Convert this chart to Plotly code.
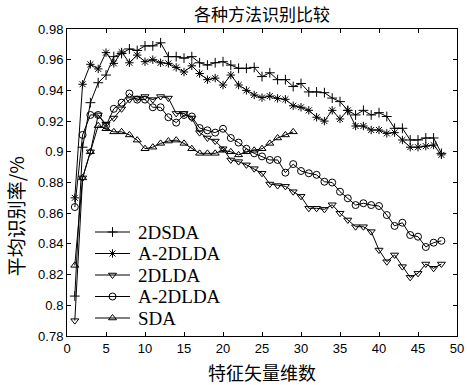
import plotly.graph_objects as go

dims = list(range(1, 49))

acc_2dsda = [0.806, 0.903, 0.932, 0.945, 0.950, 0.962, 0.964, 0.967, 0.966, 0.969,
             0.969, 0.971, 0.962, 0.962, 0.961, 0.962, 0.958, 0.9565, 0.958, 0.9587,
             0.9565, 0.9544, 0.9544, 0.955, 0.949, 0.9515, 0.947, 0.947, 0.9425, 0.9445,
             0.939, 0.939, 0.9385, 0.935, 0.9327, 0.927, 0.924, 0.927, 0.924, 0.9255,
             0.923, 0.9153, 0.9153, 0.9077, 0.9077, 0.909, 0.909, 0.899]

acc_a2dlda_star = [0.870, 0.944, 0.957, 0.954, 0.9646, 0.9576, 0.965, 0.958, 0.963, 0.9587,
                   0.960, 0.958, 0.9576, 0.955, 0.952, 0.956, 0.951, 0.947, 0.948, 0.9435,
                   0.950, 0.9435, 0.940, 0.937, 0.9353, 0.9363, 0.9348, 0.9342, 0.930, 0.929,
                   0.927, 0.9225, 0.920, 0.927, 0.9214, 0.927, 0.9168, 0.9168, 0.9142, 0.9142,
                   0.912, 0.9125, 0.9077, 0.903, 0.903, 0.9037, 0.9044, 0.898]

acc_2dlda = [0.790, 0.883, 0.900, 0.924, 0.918, 0.922, 0.928, 0.934, 0.935, 0.936,
             0.934, 0.936, 0.935, 0.925, 0.925, 0.922, 0.9125, 0.909, 0.907, 0.902,
             0.8947, 0.8936, 0.8915, 0.889, 0.886, 0.879, 0.878, 0.8775, 0.874, 0.871,
             0.8632, 0.8632, 0.8625, 0.8655, 0.860, 0.8556, 0.8512, 0.8512, 0.848, 0.836,
             0.8284, 0.8328, 0.8252, 0.8182, 0.8208, 0.8269, 0.8241, 0.8269]

acc_a2dlda_circ = [0.864, 0.911, 0.924, 0.924, 0.917, 0.928, 0.932, 0.938, 0.934, 0.934,
                   0.929, 0.929, 0.9225, 0.919, 0.924, 0.923, 0.9155, 0.914, 0.9125, 0.915,
                   0.909, 0.906, 0.902, 0.899, 0.897, 0.8947, 0.8947, 0.8864, 0.892, 0.8875,
                   0.886, 0.885, 0.8805, 0.880, 0.874, 0.8697, 0.8653, 0.8665, 0.8653, 0.8647,
                   0.8588, 0.8517, 0.8538, 0.8458, 0.8447, 0.838, 0.8408, 0.842]

dims_sda = list(range(1, 30))
acc_sda = [0.826, 0.883, 0.900, 0.917, 0.915, 0.913, 0.913, 0.911, 0.9076, 0.902,
           0.903, 0.9055, 0.907, 0.9076, 0.9055, 0.902, 0.899, 0.899, 0.899, 0.901,
           0.900, 0.898, 0.900, 0.901, 0.902, 0.9055, 0.909, 0.911, 0.913]

x_ticks = [0, 5, 10, 15, 20, 25, 30, 35, 40, 45, 50]
y_ticks = [0.78, 0.80, 0.82, 0.84, 0.86, 0.88, 0.90, 0.92, 0.94, 0.96, 0.98]
y_tick_text = ["0.78", "0.8", "0.82", "0.84", "0.86", "0.88", "0.9", "0.92", "0.94", "0.96", "0.98"]

series_names = ["2DSDA", "A-2DLDA", "2DLDA", "A-2DLDA", "SDA"]
series_symbols = ["cross-thin-open", "asterisk-open", "triangle-down-open", "circle-open", "triangle-up-open"]
series_x = [dims, dims, dims, dims, dims_sda]
series_y = [acc_2dsda, acc_a2dlda_star, acc_2dlda, acc_a2dlda_circ, acc_sda]

# plot-area geometry (px) used to place the hand-drawn legend
L, R, T, B = 67, 457, 29, 336
W, H = R - L, B - T
leg_rows_px = [232, 253.5, 275, 296.5, 318]
leg_line_px = (95, 130)
leg_text_px = 136

fig = go.Figure()
for name, xs, ys, sym in zip(series_names, series_x, series_y, series_symbols):
    fig.add_trace(go.Scatter(
        x=xs, y=ys, name=name, mode="lines+markers", showlegend=False,
        line=dict(color="black", width=1),
        marker=dict(symbol=sym, size=7, color="black", line=dict(color="black", width=1)),
    ))

annotations = []
for name, sym, py in zip(series_names, series_symbols, leg_rows_px):
    yy = (B - py) / H
    x0 = (leg_line_px[0] - L) / W
    x1 = (leg_line_px[1] - L) / W
    fig.add_trace(go.Scatter(
        x=[x0, x1], y=[yy, yy], mode="lines", xaxis="x2", yaxis="y2",
        showlegend=False, hoverinfo="skip", line=dict(color="black", width=1),
    ))
    fig.add_trace(go.Scatter(
        x=[(x0 + x1) / 2], y=[yy], mode="markers", xaxis="x2", yaxis="y2",
        showlegend=False, hoverinfo="skip",
        marker=dict(symbol=sym, size=7, color="black", line=dict(color="black", width=1)),
    ))
    annotations.append(dict(
        text=name, xref="paper", yref="paper", x=(leg_text_px - L) / W, y=yy,
        xanchor="left", yanchor="middle", showarrow=False,
        font=dict(family="Liberation Serif", size=19, color="black"),
    ))

cjk = "Noto Sans CJK SC"
annotations += [
    dict(text="特征矢量维数", xref="paper", yref="paper", x=0.5, y=-36 / H,
         xanchor="center", yanchor="middle", showarrow=False,
         font=dict(family=cjk, size=18, color="black")),
    dict(text="平均识别率/%", xref="paper", yref="paper", x=-52 / W, y=0.39,
         xanchor="center", yanchor="middle", showarrow=False, textangle=-90,
         font=dict(family=cjk, size=19, color="black")),
]

axis_common = dict(
    ticks="inside", ticklen=4, tickcolor="black",
    showline=True, linecolor="black", linewidth=1, mirror="ticks",
    showgrid=False, zeroline=False, automargin=False,
    tickfont=dict(family="Liberation Sans", size=13, color="black"),
)

fig.update_layout(
    width=467, height=385,
    paper_bgcolor="white", plot_bgcolor="white",
    margin=dict(l=L, r=467 - R, t=T, b=385 - B),
    title=dict(text="各种方法识别比较", x=262 / 467, xanchor="center", xref="container",
               y=1 - 15 / 385, yanchor="middle", yref="container",
               font=dict(family=cjk, size=17, color="black")),
    showlegend=False,
    font=dict(family="Liberation Sans", size=13, color="black"),
    annotations=annotations,
    xaxis=dict(range=[0, 50], tickvals=x_ticks, **axis_common),
    yaxis=dict(range=[0.78, 0.98], tickvals=y_ticks, ticktext=y_tick_text, **axis_common),
    xaxis2=dict(overlaying="x", range=[0, 1], visible=False, anchor="y2"),
    yaxis2=dict(overlaying="y", range=[0, 1], visible=False, anchor="x2"),
)

fig.write_html("out.html", config={"displayModeBar": False},
               post_script="document.body.style.margin='0';")
